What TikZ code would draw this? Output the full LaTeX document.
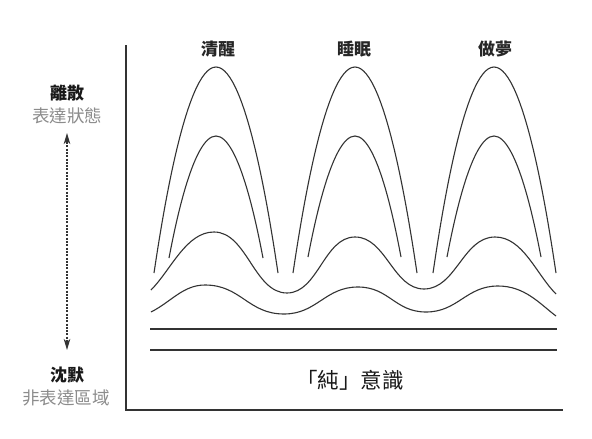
\documentclass[tikz,border=0pt]{standalone}
\usepackage{fontspec}
\newfontfamily\cjk{Noto Sans CJK TC}
\usetikzlibrary{arrows.meta}
\definecolor{ink}{HTML}{333333}
\definecolor{graytxt}{HTML}{8C8C8C}
\begin{document}
\begin{tikzpicture}[x=1pt,y=-1pt,
  curve/.style={draw=ink, line width=1.1pt},
  axis/.style={draw=ink, line width=1.4pt},
  title/.style={font=\cjk\bfseries\fontsize{17}{17}\selectfont, text=black!85, inner sep=0pt},
  lbl/.style={font=\cjk\bfseries\fontsize{17}{17}\selectfont, text=black!90, inner sep=0pt},
  glbl/.style={font=\cjk\fontsize{17.5}{17.5}\selectfont, text=graytxt, inner sep=0pt},
  pure/.style={font=\cjk\fontsize{21.5}{21.5}\selectfont, text=black!90, inner sep=0pt},
  dline/.style={draw=ink, line width=1.1pt, dash pattern=on 2pt off 1.3pt},
  tipline/.style={draw=ink, fill=ink, line width=1.1pt, solid, -{Stealth[length=11pt,width=6.5pt,inset=3pt]}}
]
\useasboundingbox[fill=white] (0,0) rectangle (592,439);

% axes
\coordinate (axtop) at (126,45);
\coordinate (axorg) at (126,410);
\coordinate (axright) at (563,410);
\draw[axis] (axtop) -- (axorg) -- (axright);

% titles
\node[title] (wake) at (218,49) {清醒};
\node[title] (sleep) at (354,49) {睡眠};
\node[title] (dream) at (495,49) {做夢};

% arches
\draw[curve] (154,273) parabola bend (216,67) (278,273);
\draw[curve] (169,258) parabola bend (216,136) (263,258);
\draw[curve] (293,273) parabola bend (355,67) (417,273);
\draw[curve] (308,257) parabola bend (355,136) (401,257);
\draw[curve] (433,273) parabola bend (494,67) (556,273);
\draw[curve] (447,257) parabola bend (494,136) (541,257);

% wave 1
\draw[curve] (151,290) .. controls (171,270) and (186,232) .. (214,232)
  .. controls (247,232) and (254,293) .. (287,293)
  .. controls (318,293) and (324,237) .. (355,237)
  .. controls (386,237) and (393,289) .. (424,289)
  .. controls (456,289) and (463,237) .. (495,237)
  .. controls (523,237) and (536,274) .. (556,294);

% wave 2
\draw[curve] (151,312) .. controls (171,302) and (183,285) .. (205,285)
  .. controls (241,285) and (248,314) .. (284,314)
  .. controls (317,314) and (325,287) .. (358,287)
  .. controls (389,287) and (395,312) .. (426,312)
  .. controls (458,312) and (466,286) .. (498,286)
  .. controls (525,286) and (540,304) .. (556,316);

% straight lines
\coordinate (l1a) at (150,329); \coordinate (l1b) at (557,329);
\coordinate (l2a) at (150,350); \coordinate (l2b) at (557,350);
\draw[curve] (l1a) -- (l1b);
\draw[curve] (l2a) -- (l2b);

% pure consciousness
\node[pure] (pure) at (350,380) {「純」意識};

% left labels
\node[lbl] (disc) at (67,93) {離散};
\node[glbl] (expr) at (67,116) {表達狀態};
\node[lbl] (silent) at (67,375) {沈默};
\node[glbl] (nonexpr) at (66,398) {非表達區域};
\coordinate (arrtop) at (67,133);
\coordinate (arrtopin) at (67,142);
\coordinate (arrbot) at (67,350);
\coordinate (arrbotin) at (67,341);
\draw[dline] (arrtopin) -- (arrbotin);
\draw[tipline] (arrtopin) -- (arrtop);
\draw[tipline] (arrbotin) -- (arrbot);
\end{tikzpicture}
\end{document}
